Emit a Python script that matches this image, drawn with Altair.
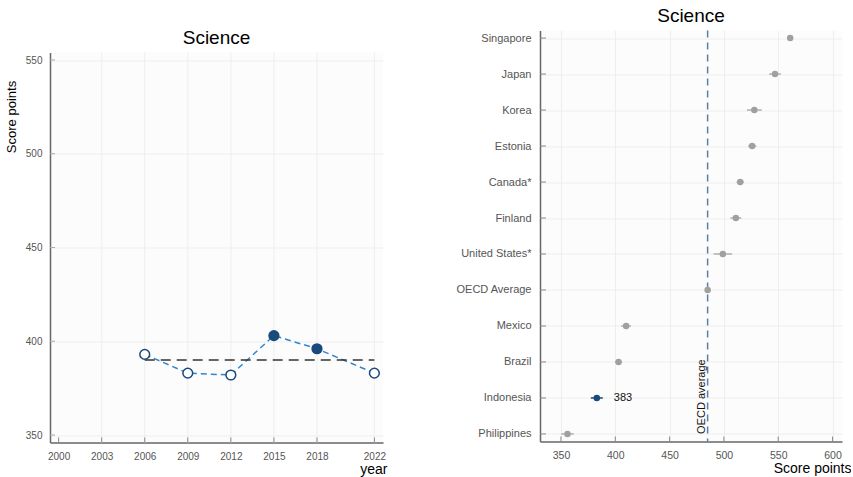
import altair as alt
import pandas as pd

# ---- Trend panel: Indonesia science scores by PISA cycle ----
years = [2006, 2009, 2012, 2015, 2018, 2022]
scores = [393, 383, 382, 403, 396, 383]
significant = [False, False, False, True, True, False]
trend_mean = 390
year_ticks = [2000, 2003, 2006, 2009, 2012, 2015, 2018, 2022]
year_grid = [2003, 2006, 2009, 2012, 2015, 2018, 2022]
score_ticks = [350, 400, 450, 500, 550]

# ---- Comparison panel: 2022 science scores with confidence intervals ----
countries = ["Singapore", "Japan", "Korea", "Estonia", "Canada*", "Finland",
             "United States*", "OECD Average", "Mexico", "Brazil", "Indonesia",
             "Philippines"]
country_scores = [561, 547, 528, 526, 515, 511, 499, 485, 410, 403, 383, 356]
ci_half = [1.8, 5.4, 6.8, 3.8, 3.4, 5.0, 8.6, 0.6, 4.5, 3.3, 5.5, 5.8]
oecd_avg = 485
highlight = "Indonesia"
point_ticks = [350, 400, 450, 500, 550, 600]

NAVY = "#1a4a7a"
LINE_BLUE = "#2e86d0"
GREY_DOT = "#a0a0a0"
GRID = "#eeeeee"
TICK = "#888888"
FONT = "Liberation Sans"

LW, LH = 333, 390
RW, RH = 302, 411

trend = pd.DataFrame({"year": years, "score": scores, "sig": significant})
mean_df = pd.DataFrame({"x": [years[0]], "x2": [years[-1]], "y": [trend_mean]})
year_tick_df = pd.DataFrame({"year": year_ticks})
year_grid_df = pd.DataFrame({"year": year_grid})
score_tick_df = pd.DataFrame({"score": score_ticks})

xs = alt.Scale(domain=[1999.4, 2022.6], nice=False, zero=False)
ys = alt.Scale(domain=[346, 554], nice=False, zero=False)

x_axis_left = alt.Axis(values=year_ticks, format="d", grid=False,
                       tickSize=0, labelPadding=9, labelColor="#555555", labelFontSize=10,
                       labelFont=FONT, domainColor="#666666", domainWidth=1.5,
                       title="year", titleFont=FONT, titleFontSize=14,
                       titleFontWeight="normal", titleColor="#000000",
                       titleX=LW + 4, titleY=27, titleAlign="right",
                       titleBaseline="middle")
y_axis_left = alt.Axis(values=score_ticks, grid=True, gridColor=GRID,
                       tickSize=0, labelPadding=8,
                       labelColor="#555555", labelFontSize=10, labelFont=FONT,
                       domainColor="#666666", domainWidth=1.5,
                       title="Score points", titleFont=FONT, titleFontSize=13,
                       titleFontWeight="normal", titleColor="#000000",
                       titleAngle=270, titleX=-39, titleY=64, titleAlign="center",
                       titleBaseline="middle")

year_gridlines = alt.Chart(year_grid_df).mark_rule(color=GRID, strokeWidth=1).encode(
    x=alt.X("year:Q", scale=xs, axis=x_axis_left)
)

trend_line = alt.Chart(trend).mark_line(
    color=LINE_BLUE, strokeDash=[6, 4], strokeWidth=1.5
).encode(
    x=alt.X("year:Q", scale=xs, axis=x_axis_left),
    y=alt.Y("score:Q", scale=ys, axis=y_axis_left),
)

mean_rule = alt.Chart(mean_df).mark_rule(
    color="#333333", strokeDash=[10, 6], strokeWidth=1.5
).encode(x=alt.X("x:Q", scale=xs), x2="x2:Q", y=alt.Y("y:Q", scale=ys))

trend_pts = alt.Chart(trend).mark_point(
    shape="circle", size=95, filled=False, strokeWidth=1.5, opacity=1
).encode(
    x=alt.X("year:Q", scale=xs),
    y=alt.Y("score:Q", scale=ys),
    fill=alt.condition("datum.sig", alt.value(NAVY), alt.value("#ffffff")),
    stroke=alt.value(NAVY),
)

# short inward tick marks on both axes of the trend panel
left_xticks = alt.Chart(year_tick_df).mark_rule(color=TICK, strokeWidth=1).encode(
    x=alt.X("year:Q", scale=xs), y=alt.value(LH - 5), y2=alt.value(LH)
)
left_yticks = alt.Chart(score_tick_df).mark_rule(color="#aaaaaa", strokeWidth=1).encode(
    y=alt.Y("score:Q", scale=ys), x=alt.value(0), x2=alt.value(5)
)

left = alt.layer(year_gridlines, trend_line, mean_rule, left_xticks, left_yticks,
                 trend_pts).properties(
    width=LW, height=LH,
    title=alt.TitleParams("Science", fontSize=19, font=FONT,
                          fontWeight="normal", color="#000000",
                          anchor="middle", offset=4),
)

# empty strip that lowers the trend panel below the comparison panel's top
spacer = alt.Chart(pd.DataFrame({"v": [0]})).transform_filter("false").mark_point(
    opacity=0
).encode(
    x=alt.value(0), y=alt.value(0)
).properties(width=LW, height=1, view=alt.ViewBackground(fill="#ffffff", stroke=None))

left_col = alt.vconcat(spacer, left, spacing=-3)

# ---- right panel ----
comp = pd.DataFrame({
    "country": countries,
    "score": country_scores,
    "lo": [s - h for s, h in zip(country_scores, ci_half)],
    "hi": [s + h for s, h in zip(country_scores, ci_half)],
})
comp["focus"] = comp["country"] == highlight
oecd_df = pd.DataFrame({"x": [oecd_avg], "country": [countries[-1]],
                        "label": ["OECD average"]})
pt_tick_df = pd.DataFrame({"v": point_ticks})

px = alt.Scale(domain=[330.7, 608.7], nice=False, zero=False)
py = alt.Scale(domain=countries, type="point", padding=0.21)

x_axis_right = alt.Axis(values=point_ticks, grid=True, gridColor=GRID,
                        tickSize=0, labelPadding=9, labelColor="#555555",
                        labelFontSize=10.5, labelFont=FONT, domainColor="#666666",
                        domainWidth=1.5, title="Score points", titleFont=FONT,
                        titleFontSize=14, titleFontWeight="normal",
                        titleColor="#000000", titleX=RW + 9, titleY=27,
                        titleAlign="right", titleBaseline="middle")
y_axis_right = alt.Axis(grid=True, gridColor=GRID, tickSize=0, labelPadding=9,
                        labelColor="#555555", labelFontSize=11, labelFont=FONT,
                        domainColor="#666666", domainWidth=1.5, title=None)

bars = alt.Chart(comp).mark_rule(strokeWidth=1.5).encode(
    x=alt.X("lo:Q", scale=px, axis=x_axis_right),
    x2="hi:Q",
    y=alt.Y("country:N", scale=py, sort=countries, axis=y_axis_right),
    color=alt.condition("datum.focus", alt.value(NAVY), alt.value("#b0b0b0")),
)

dots = alt.Chart(comp).mark_circle(size=42, opacity=1).encode(
    x=alt.X("score:Q", scale=px),
    y=alt.Y("country:N", scale=py, sort=countries),
    color=alt.condition("datum.focus", alt.value(NAVY), alt.value(GREY_DOT)),
)

value_label = alt.Chart(comp).transform_filter("datum.focus").mark_text(
    align="left", baseline="middle", dx=17, fontSize=11, font=FONT, color="#111111"
).encode(
    x=alt.X("score:Q", scale=px),
    y=alt.Y("country:N", scale=py, sort=countries),
    text=alt.Text("score:Q", format="d"),
)

oecd_rule = alt.Chart(oecd_df).mark_rule(
    color="#5b7fa3", strokeDash=[7, 5], strokeWidth=1.5
).encode(x=alt.X("x:Q", scale=px))

oecd_text = alt.Chart(oecd_df).mark_text(
    angle=270, align="left", baseline="bottom", fontSize=11, font=FONT,
    color="#111111", dy=-1
).encode(
    x=alt.X("x:Q", scale=px),
    y=alt.Y("country:N", scale=py, sort=countries),
    text="label:N",
)

right_yticks = alt.Chart(comp).mark_rule(color=TICK, strokeWidth=1).encode(
    x=alt.value(0), x2=alt.value(6),
    y=alt.Y("country:N", scale=py, sort=countries),
)
right_xticks = alt.Chart(pt_tick_df).mark_rule(color=TICK, strokeWidth=1).encode(
    x=alt.X("v:Q", scale=px), y=alt.value(RH - 5), y2=alt.value(RH)
)

right = alt.layer(bars, oecd_rule, right_yticks, right_xticks, dots, value_label,
                  oecd_text).properties(
    width=RW, height=RH,
    title=alt.TitleParams("Science", fontSize=19, font=FONT, fontWeight="normal",
                          color="#000000", anchor="middle", offset=4),
)

chart = alt.hconcat(left_col, right, spacing=68).properties(
    padding={"left": 5, "top": 6.5, "right": 0, "bottom": 0},
    background="#ffffff",
).configure_view(stroke=None, fill="#fcfcfc")

chart.save("out.html", embed_options={"renderer": "svg", "actions": False})
